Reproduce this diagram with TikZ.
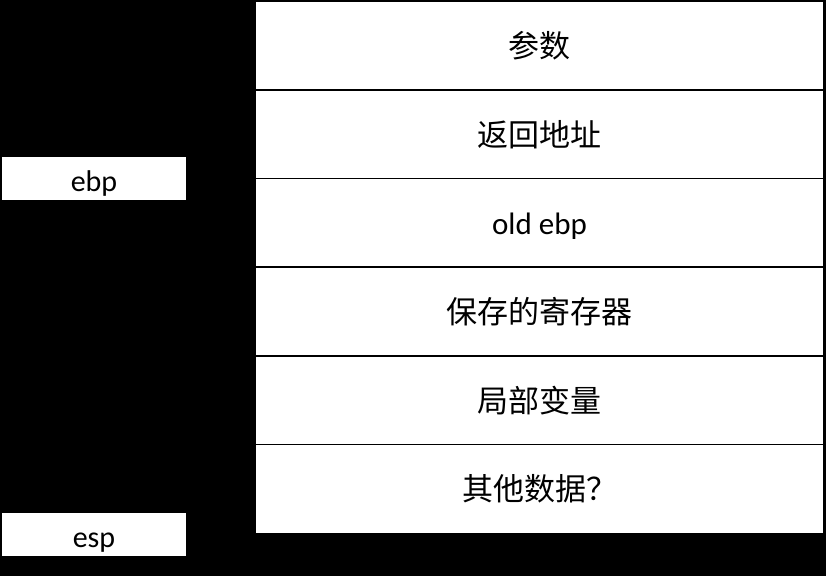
\documentclass[tikz,border=0pt]{standalone}
\usepackage{fontspec}
\setmainfont{Carlito}
\newfontfamily\cjk{Noto Sans CJK SC}
\usepackage{tikz}
\usetikzlibrary{positioning}
\tikzstyle{stack cell}=[rectangle, draw=black, fill=white, line width=1.6pt,
outer sep=0pt, minimum width=569pt, minimum height=88.7pt, inner sep=0pt,
font=\cjk\fontsize{31}{36}\selectfont]
\tikzstyle{register}=[rectangle, fill=white, minimum width=184pt,
minimum height=43pt, inner sep=0pt, text height=26pt, text depth=0pt,
font=\fontsize{30}{36}\selectfont]

\begin{document}
\begin{tikzpicture}[x=1pt,y=-1pt]
			\fill[black] (0,0) rectangle (826,576);
			\node[stack cell] (args) at (539.5,45.5) {参数};
			\node[stack cell, below=0pt of args] (ret) {返回地址};
			\node[stack cell, below=0pt of ret, text height=24pt, text depth=0pt, font=\fontsize{31}{36}\selectfont] (oldebp) {old ebp};
			\node[stack cell, below=0pt of oldebp] (saved) {保存的寄存器};
			\node[stack cell, below=0pt of saved] (locals) {局部变量};
			\node[stack cell, below=0pt of locals] (other) {其他数据？};

			\node[register] (ebp) at (94,178.5) {ebp};
			\node[register] (esp) at (94,534.5) {esp};
		\end{tikzpicture}
\end{document}
